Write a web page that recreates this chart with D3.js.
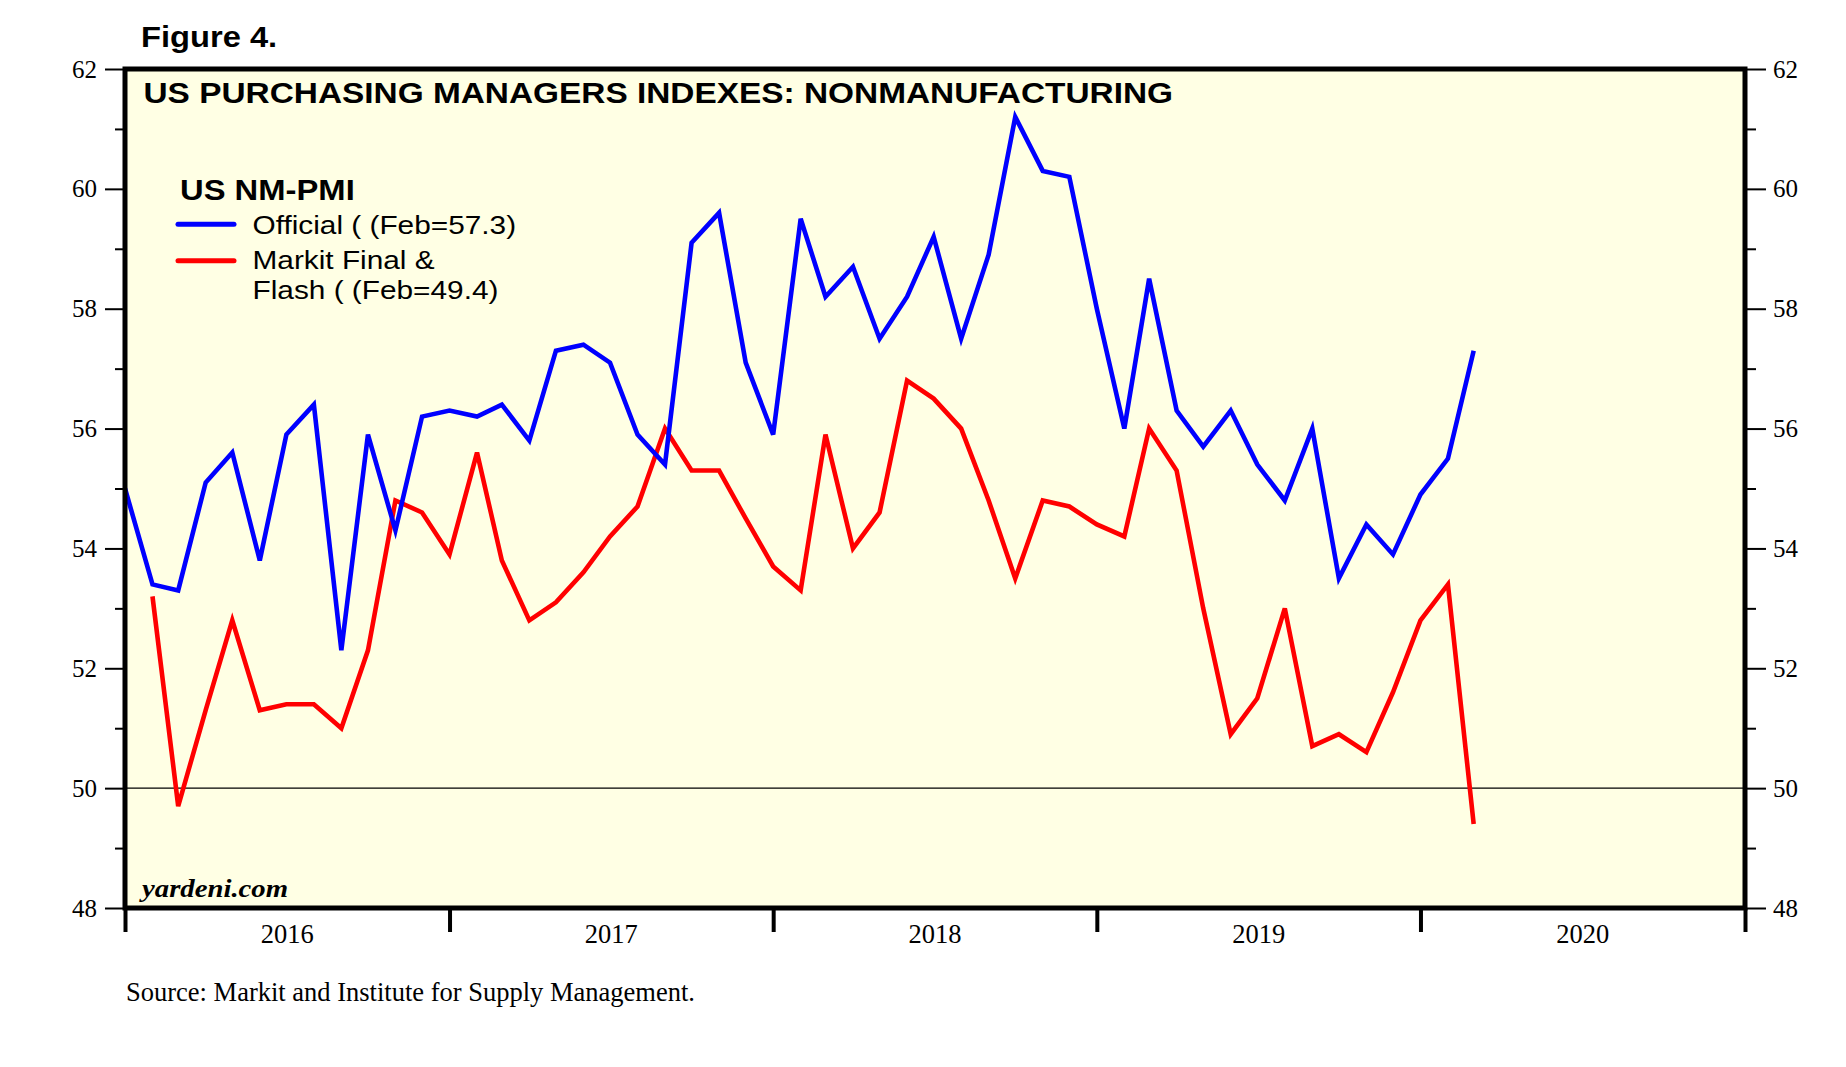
<!DOCTYPE html>
<html><head><meta charset="utf-8">
<script src="https://cdn.jsdelivr.net/npm/d3@7"></script>
<style>body{margin:0;background:#fff;} svg{display:block}</style>
</head><body>
<svg id="chart" width="1846" height="1067"></svg>
<script>
// ---------- DATA ----------
const officialMonths = [
  "2015-12",
  "2016-01","2016-02","2016-03","2016-04","2016-05","2016-06","2016-07","2016-08","2016-09","2016-10","2016-11","2016-12",
  "2017-01","2017-02","2017-03","2017-04","2017-05","2017-06","2017-07","2017-08","2017-09","2017-10","2017-11","2017-12",
  "2018-01","2018-02","2018-03","2018-04","2018-05","2018-06","2018-07","2018-08","2018-09","2018-10","2018-11","2018-12",
  "2019-01","2019-02","2019-03","2019-04","2019-05","2019-06","2019-07","2019-08","2019-09","2019-10","2019-11","2019-12",
  "2020-01","2020-02"];
const officialValues = [
  55.0,
  53.4,53.3,55.1,55.6,53.8,55.9,56.4,52.3,55.9,54.3,56.2,56.3,
  56.2,56.4,55.8,57.3,57.4,57.1,55.9,55.4,59.1,59.6,57.1,55.9,
  59.5,58.2,58.7,57.5,58.2,59.2,57.5,58.9,61.2,60.3,60.2,58.0,
  56.0,58.5,56.3,55.7,56.3,55.4,54.8,56.0,53.5,54.4,53.9,54.9,
  55.5,57.3];
const markitMonths = officialMonths.slice(1);
const markitValues = [
  53.2,49.7,51.3,52.8,51.3,51.4,51.4,51.0,52.3,54.8,54.6,53.9,
  55.6,53.8,52.8,53.1,53.6,54.2,54.7,56.0,55.3,55.3,54.5,53.7,
  53.3,55.9,54.0,54.6,56.8,56.5,56.0,54.8,53.5,54.8,54.7,54.4,
  54.2,56.0,55.3,53.0,50.9,51.5,53.0,50.7,50.9,50.6,51.6,52.8,
  53.4,49.4];
const yearLabels = ["2016","2017","2018","2019","2020"];
const yMajorTicks = [48,50,52,54,56,58,60,62];
const yMinorTicks = [49,51,53,55,57,59,61];
const legendTitle = "US NM-PMI";
const legendOfficial = ["Official ( (Feb=57.3)"];
const legendMarkit = ["Markit Final &", "Flash ( (Feb=49.4)"];
const figureLabel = "Figure 4.";
const chartTitle = "US PURCHASING MANAGERS INDEXES: NONMANUFACTURING";
const sourceText = "Source: Markit and Institute for Supply Management.";
const watermark = "yardeni.com";

// ---------- LAYOUT ----------
const L = 125, R = 1745, T = 69, B = 908;
const svg = d3.select("#chart");
const parseM = d3.timeParse("%Y-%m");
const monthEnd = m => d3.timeMonth.offset(parseM(m), 1);

const x = d3.scaleTime()
  .domain([new Date(2016,0,1), new Date(2021,0,1)])
  .range([L, R]);
const y = d3.scaleLinear().domain([48, 62]).range([B, T]);

const sans = "Liberation Sans, Arial, sans-serif";
const serif = "Liberation Serif, Times New Roman, serif";

// plot background
svg.append("rect").attr("x", L).attr("y", T).attr("width", R - L).attr("height", B - T)
  .attr("fill", "#ffffe4");

// 50 reference line
svg.append("line").attr("x1", L).attr("x2", R).attr("y1", y(50)).attr("y2", y(50))
  .attr("stroke", "#000").attr("stroke-width", 1.3);

// clip
svg.append("clipPath").attr("id", "clip").append("rect")
  .attr("x", L).attr("y", T).attr("width", R - L).attr("height", B - T);

const line = d3.line().x(d => x(d.date)).y(d => y(d.v));
const official = officialMonths.map((m, i) => ({date: monthEnd(m), v: officialValues[i]}));
const markit = markitMonths.map((m, i) => ({date: monthEnd(m), v: markitValues[i]}));

const g = svg.append("g").attr("clip-path", "url(#clip)");
g.append("path").datum(markit).attr("d", line).attr("fill", "none")
  .attr("stroke", "#ff0000").attr("stroke-width", 4.6).attr("stroke-linejoin", "miter");
g.append("path").datum(official).attr("d", line).attr("fill", "none")
  .attr("stroke", "#0000ff").attr("stroke-width", 4.6).attr("stroke-linejoin", "miter");

// axes
function styleAxis(sel, w) {
  sel.attr("font-family", serif).attr("font-size", 25);
  sel.select(".domain").remove();
  sel.selectAll(".tick line").attr("stroke", "#000").attr("stroke-width", w);
  sel.selectAll(".tick text").attr("font-family", serif).attr("font-size", 25).attr("fill", "#000");
}
const yl = svg.append("g").attr("transform", `translate(${L},0)`)
  .call(d3.axisLeft(y).tickValues(yMajorTicks).tickSize(20).tickPadding(8).tickFormat(d3.format("d")));
styleAxis(yl, 2);
const yr = svg.append("g").attr("transform", `translate(${R},0)`)
  .call(d3.axisRight(y).tickValues(yMajorTicks).tickSize(21).tickPadding(7).tickFormat(d3.format("d")));
styleAxis(yr, 2);
const ylm = svg.append("g").attr("transform", `translate(${L},0)`)
  .call(d3.axisLeft(y).tickValues(yMinorTicks).tickSize(10).tickFormat(""));
styleAxis(ylm, 2);
const yrm = svg.append("g").attr("transform", `translate(${R},0)`)
  .call(d3.axisRight(y).tickValues(yMinorTicks).tickSize(11).tickFormat(""));
styleAxis(yrm, 2);

const yearStarts = yearLabels.map(s => new Date(+s, 0, 1)).concat([new Date(+yearLabels[yearLabels.length-1] + 1, 0, 1)]);
const xa = svg.append("g").attr("transform", `translate(0,${B})`)
  .call(d3.axisBottom(x).tickValues(yearStarts).tickSize(24).tickFormat(""));
styleAxis(xa, 4);

svg.append("g").selectAll("text").data(yearLabels).join("text")
  .attr("x", d => (x(new Date(+d, 0, 1)) + x(new Date(+d + 1, 0, 1))) / 2)
  .attr("y", 943)
  .attr("text-anchor", "middle")
  .attr("font-family", serif).attr("font-size", 26.5)
  .text(d => d);

// frame
svg.append("rect").attr("x", L).attr("y", T).attr("width", R - L).attr("height", B - T)
  .attr("fill", "none").attr("stroke", "#000").attr("stroke-width", 5);

// texts
function stext(txt, tx, ty, size, weight, family, sx, style) {
  return svg.append("text")
    .attr("transform", `translate(${tx},${ty}) scale(${sx},1)`)
    .attr("font-family", family).attr("font-size", size)
    .attr("font-weight", weight).attr("font-style", style || "normal")
    .attr("fill", "#000").text(txt);
}
stext(figureLabel, 141, 46.7, 30, "bold", sans, 1.09);
stext(chartTitle, 143.5, 102.7, 29.3, "bold", sans, 1.14);
stext(legendTitle, 180, 199.5, 29, "bold", sans, 1.13);
stext(legendOfficial[0], 252.5, 234, 26.5, "normal", sans, 1.125);
stext(legendMarkit[0], 252.5, 269, 26.5, "normal", sans, 1.125);
stext(legendMarkit[1], 252.5, 298.5, 26.5, "normal", sans, 1.125);
stext(watermark, 142, 897, 25, "bold", serif, 1.15, "italic");
stext(sourceText, 126, 1001, 26.5, "normal", serif, 1.0);

// legend samples
svg.append("line").attr("x1", 178).attr("x2", 234).attr("y1", 224.3).attr("y2", 224.3)
  .attr("stroke", "#0000ff").attr("stroke-width", 5).attr("stroke-linecap", "round");
svg.append("line").attr("x1", 178).attr("x2", 234).attr("y1", 260.7).attr("y2", 260.7)
  .attr("stroke", "#ff0000").attr("stroke-width", 5).attr("stroke-linecap", "round");
</script>
</body></html>
